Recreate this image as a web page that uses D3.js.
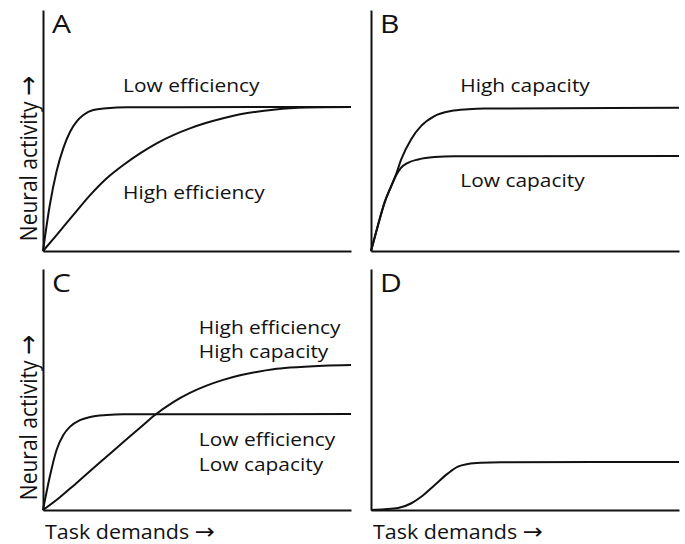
<!DOCTYPE html>
<html>
<head>
<meta charset="utf-8">
<script src="https://cdn.jsdelivr.net/npm/d3@7"></script>
<style>
  body { margin: 0; background: #fff; }
  text { font-family: "Open Sans", sans-serif; fill: #111; }
  .arrow { font-family: "DejaVu Sans", sans-serif; }
</style>
</head>
<body>
<div id="chart"></div>
<script>
// curves, x = task demands (0-100), y = neural activity (0-100)
var aLowEff = [[0,0],[2.2,19],[4.4,33],[6.6,42.7],[8.8,49.5],[10.9,53.7],[13.1,56.4],[16.3,58.5],[20.7,59.2],[27.2,59.6],[100,59.8]];
var aHighEff = [[0,0],[4.4,6.6],[9.8,14.9],[15.3,23.2],[20.7,30.2],[26.1,35.7],[31.5,40.5],[36.9,44.7],[42.3,48.1],[47.7,50.9],[53.1,53.2],[58.5,55.1],[64,56.7],[69.4,57.8],[74.8,58.6],[80.2,59.2],[85.6,59.5],[100,59.7]];

var bHighCap = [[0,0],[2.2,10.4],[4.4,20.1],[6.6,27],[8.2,32],[9.8,38],[13,46.3],[16.3,51.9],[20.6,56],[26,58.1],[31.5,58.8],[36.9,59.1],[100,59.4]];
var bLowCap = [[0,0],[2.2,10.4],[4.4,20.1],[6.6,27],[8.2,31.5],[9.8,34.6],[12,36.6],[15.3,38],[20.6,39],[27.1,39.3],[100,39.4]];

var cLow = [[0,0],[2.2,13.8],[4.4,24.9],[6.6,31.1],[8.8,34.6],[12,37.3],[15.3,38.6],[20.7,39.4],[26.1,39.7],[100,39.8]];
var cHigh = [[0,0],[5.5,5.3],[9.8,10],[15.3,16.2],[20.7,22.2],[26.1,28.2],[31.5,34.1],[35.8,38.9],[42.3,44.8],[47.7,48.6],[53.1,51.6],[58.5,54],[64,55.9],[69.4,57.3],[74.8,58.4],[80.2,59.1],[91,59.9],[100,60.2]];

var dCurve = [[0,0],[4.4,0.3],[8.8,0.8],[13.1,2.8],[16.3,5.5],[20.7,10.4],[25,15.2],[28.2,18],[31.5,19.1],[35.8,19.6],[42.3,19.8],[100,19.9]];

var panelLetters = ['A', 'B', 'C', 'D'];
var panelCurves = [[aLowEff, aHighEff], [bHighCap, bLowCap], [cLow, cHigh], [dCurve]];
// labels: [text, x, y] in data units
var panelLabels = [
  [['Low efficiency', 26, 66], ['High efficiency', 26, 21.6]],
  [['High capacity', 29, 66], ['Low capacity', 29, 26.6]],
  [['High efficiency', 50.6, 73], ['High capacity', 50.6, 63], ['Low efficiency', 50.6, 26.5], ['Low capacity', 50.6, 16]],
  []
];
var xLabel = 'Task demands';
var yLabel = 'Neural activity';
var arrow = '\u2192';

var W = 685, H = 544;
var svg = d3.select('#chart').append('svg')
    .attr('width', W)
    .attr('height', H);

var pw = 308, ph = 241;
var sx = 1.1;   // the figure's lettering is a bit wide
var origins = [[43, 10], [371, 10], [43, 269], [371, 269]];

var x = d3.scaleLinear().domain([0, 100]).range([0, pw]);
var y = d3.scaleLinear().domain([0, 100]).range([ph, 0]);

var line = d3.line()
    .x(function(d) { return x(d[0]); })
    .y(function(d) { return y(d[1]); })
    .curve(d3.curveMonotoneX);

panelLetters.forEach(function(letter, i) {
  var g = svg.append('g')
      .attr('transform', 'translate(' + origins[i][0] + ',' + origins[i][1] + ')');

  g.append('g')
      .attr('transform', 'translate(0,' + ph + ')')
      .call(d3.axisBottom(x).tickValues([]).tickSizeOuter(0))
      .select('.domain').attr('stroke', '#111').attr('stroke-width', 2);

  g.append('g')
      .call(d3.axisLeft(y).tickValues([]).tickSizeOuter(0))
      .select('.domain').attr('stroke', '#111').attr('stroke-width', 2);

  g.selectAll('path.curve')
      .data(panelCurves[i])
      .enter().append('path')
      .attr('class', 'curve')
      .attr('d', line)
      .attr('fill', 'none')
      .attr('stroke', '#111')
      .attr('stroke-width', 2);

  g.append('text')
      .attr('transform', 'translate(9,23)scale(1.2,1)')
      .style('font-size', '25px')
      .text(letter);

  g.selectAll('text.lab')
      .data(panelLabels[i])
      .enter().append('text')
      .attr('class', 'lab')
      .attr('transform', function(d) {
        return 'translate(' + x(d[1]) + ',' + y(d[2]) + ')scale(' + sx + ',1)';
      })
      .style('font-size', '19px')
      .text(function(d) { return d[0]; });

  if (i % 2 === 0) {
    var yl = g.append('text')
        .attr('transform', 'translate(-6,' + (ph / 2 + 28) + ')scale(' + sx + ',1)rotate(-90)')
        .attr('text-anchor', 'middle')
        .style('font-size', '21px');
    yl.append('tspan').text(yLabel + ' ');
    yl.append('tspan').attr('class', 'arrow').style('font-size', '24px').text(arrow);
  }
  if (i >= 2) {
    var xl = g.append('text')
        .attr('transform', 'translate(2,' + (ph + 29) + ')scale(' + sx + ',1)')
        .style('font-size', '19.5px');
    xl.append('tspan').text(xLabel + ' ');
    xl.append('tspan').attr('class', 'arrow').style('font-size', '22px').text(arrow);
  }
});
</script>
</body>
</html>
